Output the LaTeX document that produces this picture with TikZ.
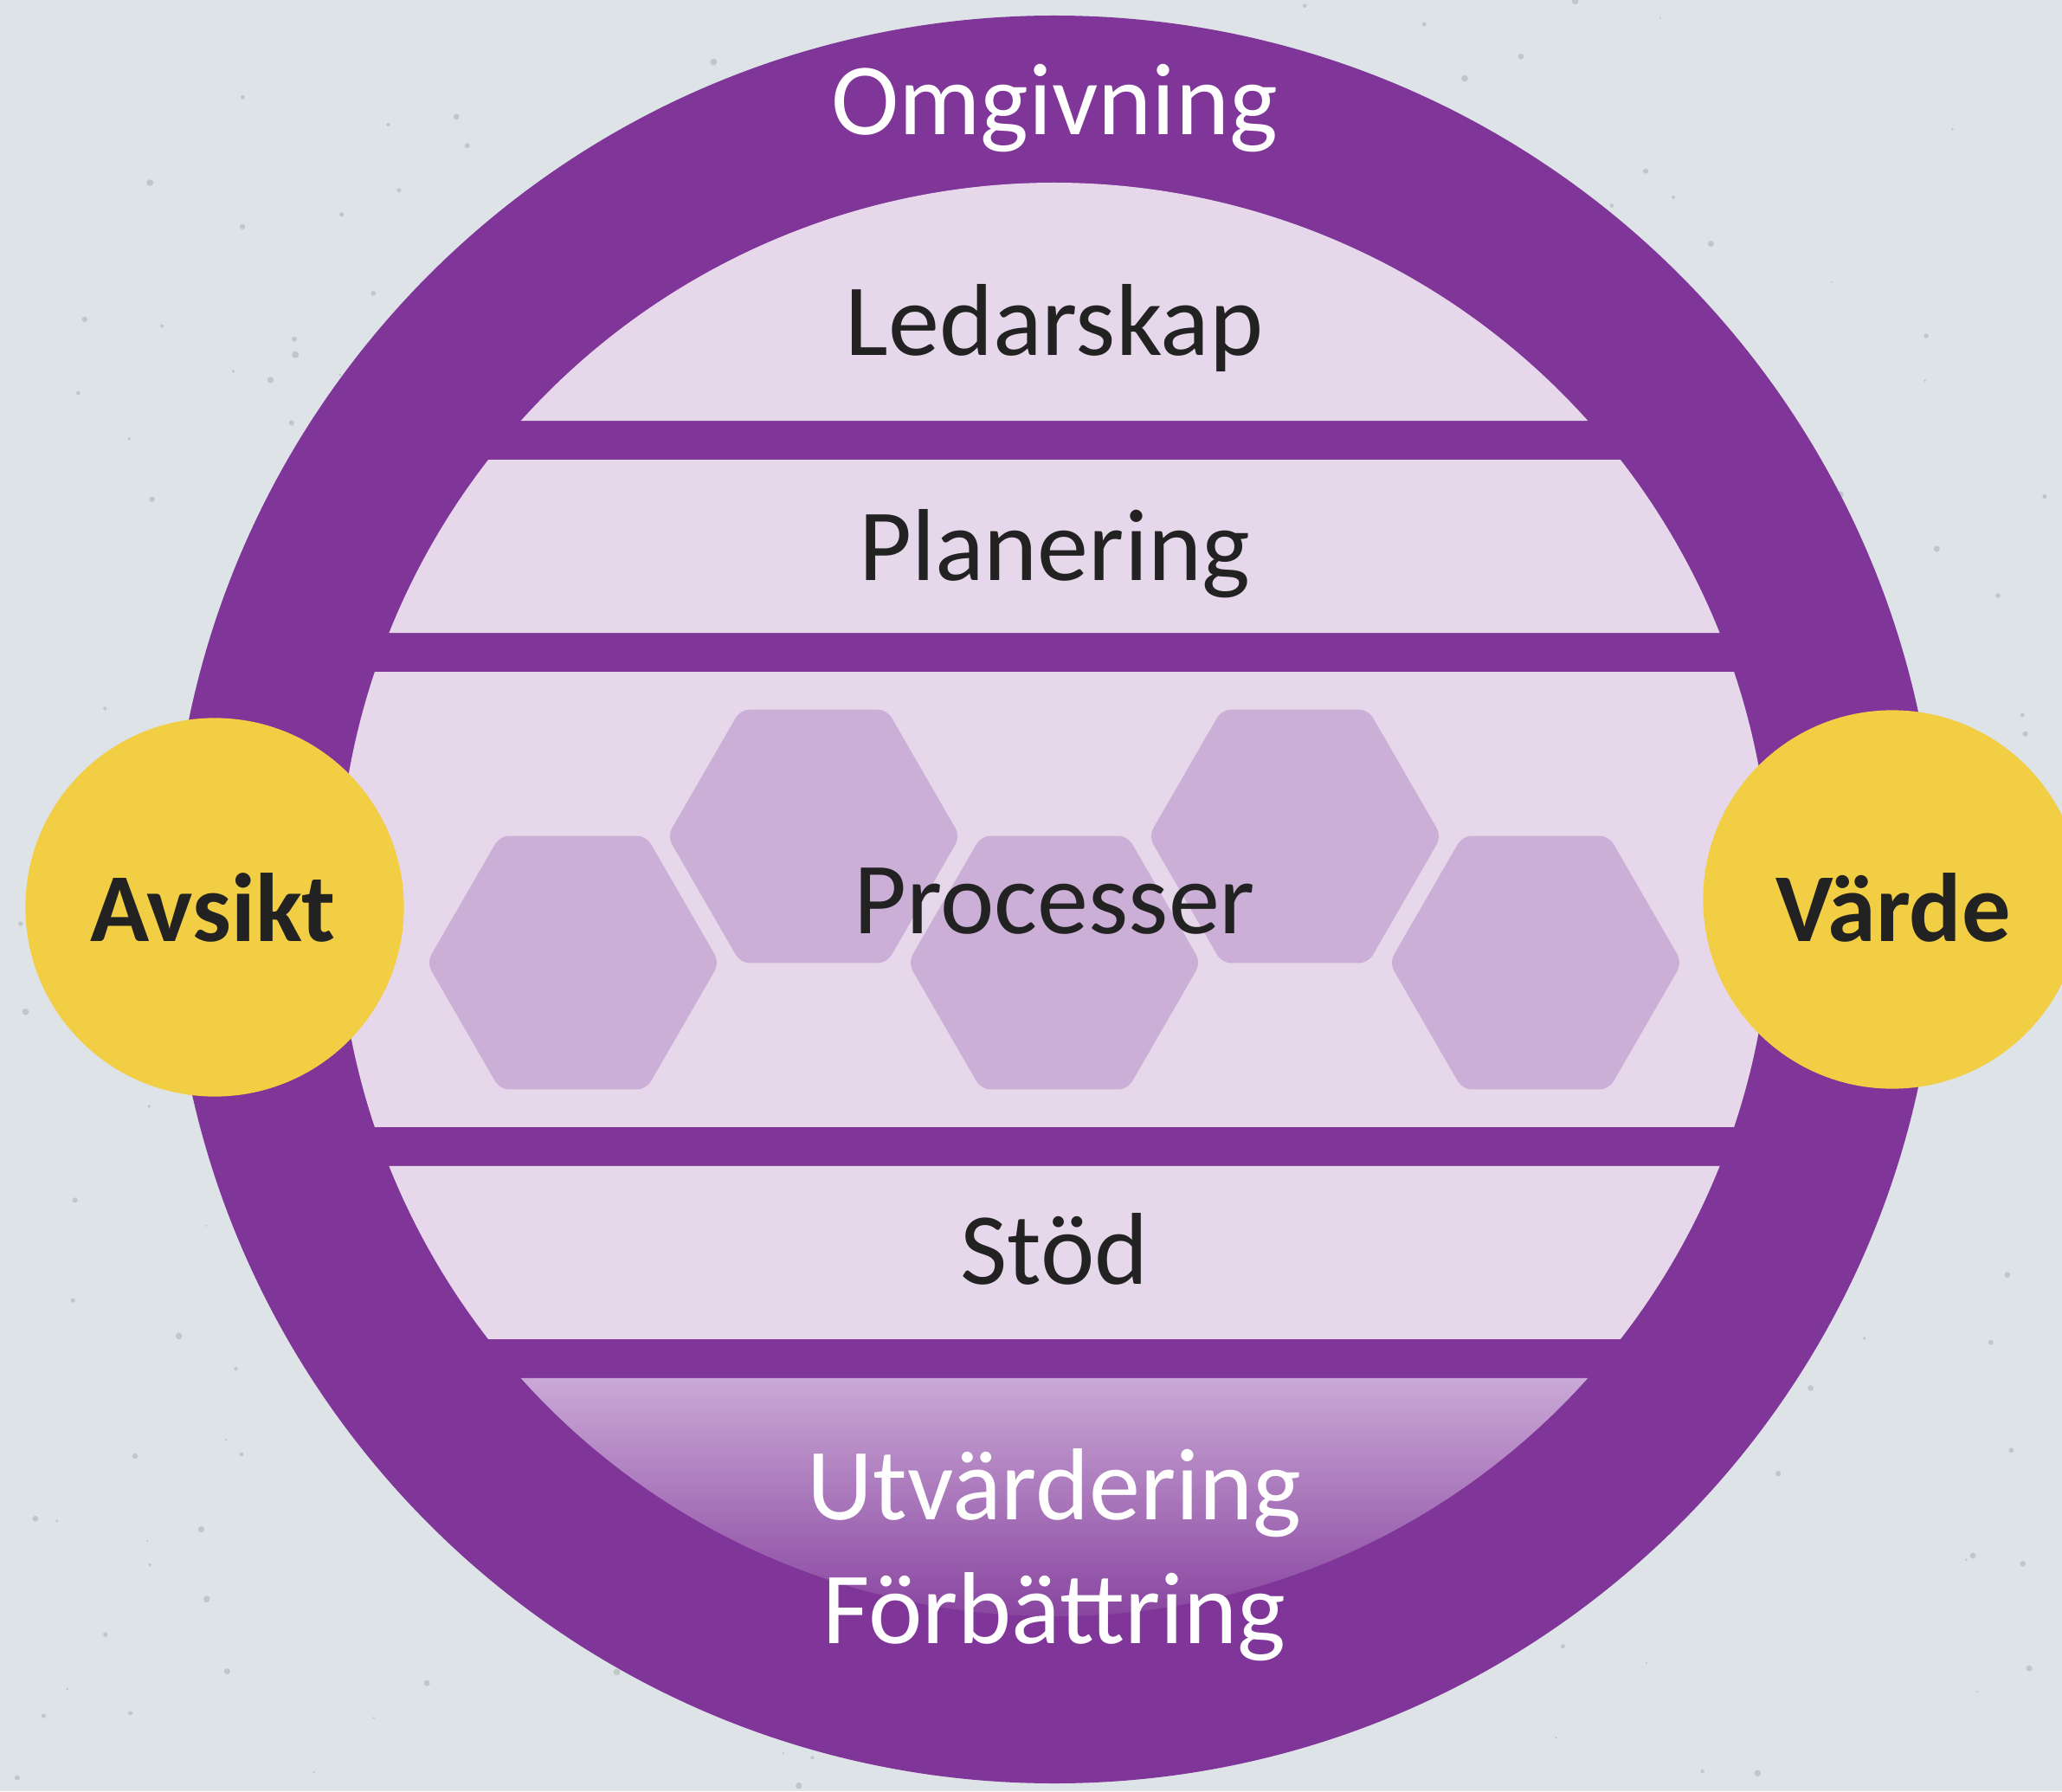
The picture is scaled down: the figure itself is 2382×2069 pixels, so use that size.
\documentclass[tikz,border=0pt]{standalone}
\usepackage{fontspec}
\setmainfont{Carlito}
\usetikzlibrary{shapes.geometric}

\definecolor{bg}{HTML}{DDE3E7}
\definecolor{speck}{HTML}{8A9096}
\definecolor{purp}{HTML}{7F3698}
\definecolor{lav}{HTML}{E6D8EA}
\definecolor{lavtop}{HTML}{CAA9D6}
\definecolor{hexc}{HTML}{CBAFD6}
\definecolor{gold}{HTML}{F2CE44}
\definecolor{ink}{HTML}{222222}

% radius of the inner disc
\newcommand{\Rin}{828}
% a band of the inner disc between two heights
\newcommand{\layerband}[2]{%
  \fill[lav] ({180-asin(#1/\Rin)}:\Rin) -- ({asin(#1/\Rin)}:\Rin)
    arc[start angle={asin(#1/\Rin)}, end angle={asin(#2/\Rin)}, radius=\Rin]
    -- ({180-asin(#2/\Rin)}:\Rin)
    arc[start angle={180-asin(#2/\Rin)}, end angle={180-asin(#1/\Rin)}, radius=\Rin] -- cycle;}

\begin{document}
\begin{tikzpicture}[x=0.01cm, y=0.01cm]
  \tikzset { lbl/.style = { font=\fontsize{33.6}{40}\selectfont, text=ink, anchor=base, inner sep=0pt } }
  \tikzset { hexa/.style = { regular polygon, regular polygon sides=6, minimum size=3.38cm,
      inner sep=0pt, fill=hexc, rounded corners=3pt } }
  \tikzset { dot/.style = { circle, fill=gold, minimum size=4.37cm, inner sep=0pt } }
  \tikzset { tag/.style = { font=\fontsize{32}{38}\selectfont\bfseries, text=ink, anchor=base, inner sep=0pt } }

  \useasboundingbox (-1218,-1030) rectangle (1164,1039);
  \clip (-1218,-1030) rectangle (1164,1039);
  \fill[bg] (-1218,-1030) rectangle (1164,1039);

  % concrete speckles
  \pgfmathsetseed{4711}
  \foreach \i in {1,...,260}
    \fill[speck, opacity=0.35] ({-1218+2382*rnd},{-1030+2069*rnd}) circle[radius={1+3*rnd}];

  % outer ring
  \fill[purp] (0,0) circle[radius=1021];

  % top cap
  \fill[lav] ({asin(553/\Rin)}:\Rin)
    arc[start angle={asin(553/\Rin)}, end angle={180-asin(553/\Rin)}, radius=\Rin] -- cycle;
  \layerband{508}{308}
  \layerband{263}{-263}
  \layerband{-308}{-508}
  % bottom cap, shaded
  \shade[top color=lavtop, bottom color=purp] ({-asin(553/\Rin)}:\Rin)
    arc[start angle={-asin(553/\Rin)}, end angle={-180+asin(553/\Rin)}, radius=\Rin] -- cycle;

  % process hexagons
  \node[hexa] (h1) at (-556,-73) {};
  \node[hexa] (h2) at (-278,73) {};
  \node[hexa] (h3) at (0,-73) {};
  \node[hexa] (h4) at (278,73) {};
  \node[hexa] (h5) at (556,-73) {};

  \node[lbl, text=white] (omg) at (0,883) {Omgivning};
  \node[lbl] (led) at (0,628) {Ledarskap};
  \node[lbl] (plan) at (0,368) {Planering};
  \node[lbl] (proc) at (0,-39) {Processer};
  \node[lbl] (stod) at (0,-444) {Stöd};
  \node[lbl, text=white] (utv) at (0,-716) {Utvärdering};
  \node[lbl, text=white] (forb) at (0,-859) {Förbättring};

  \node[dot] (avs) at (-970,-9) {};
  \node[dot] (varde) at (968,0) {};
  \node[tag] (avst) at (-972,-48) {Avsikt};
  \node[tag] (vardet) at (969,-48) {Värde};

\end{tikzpicture}
\end{document}
